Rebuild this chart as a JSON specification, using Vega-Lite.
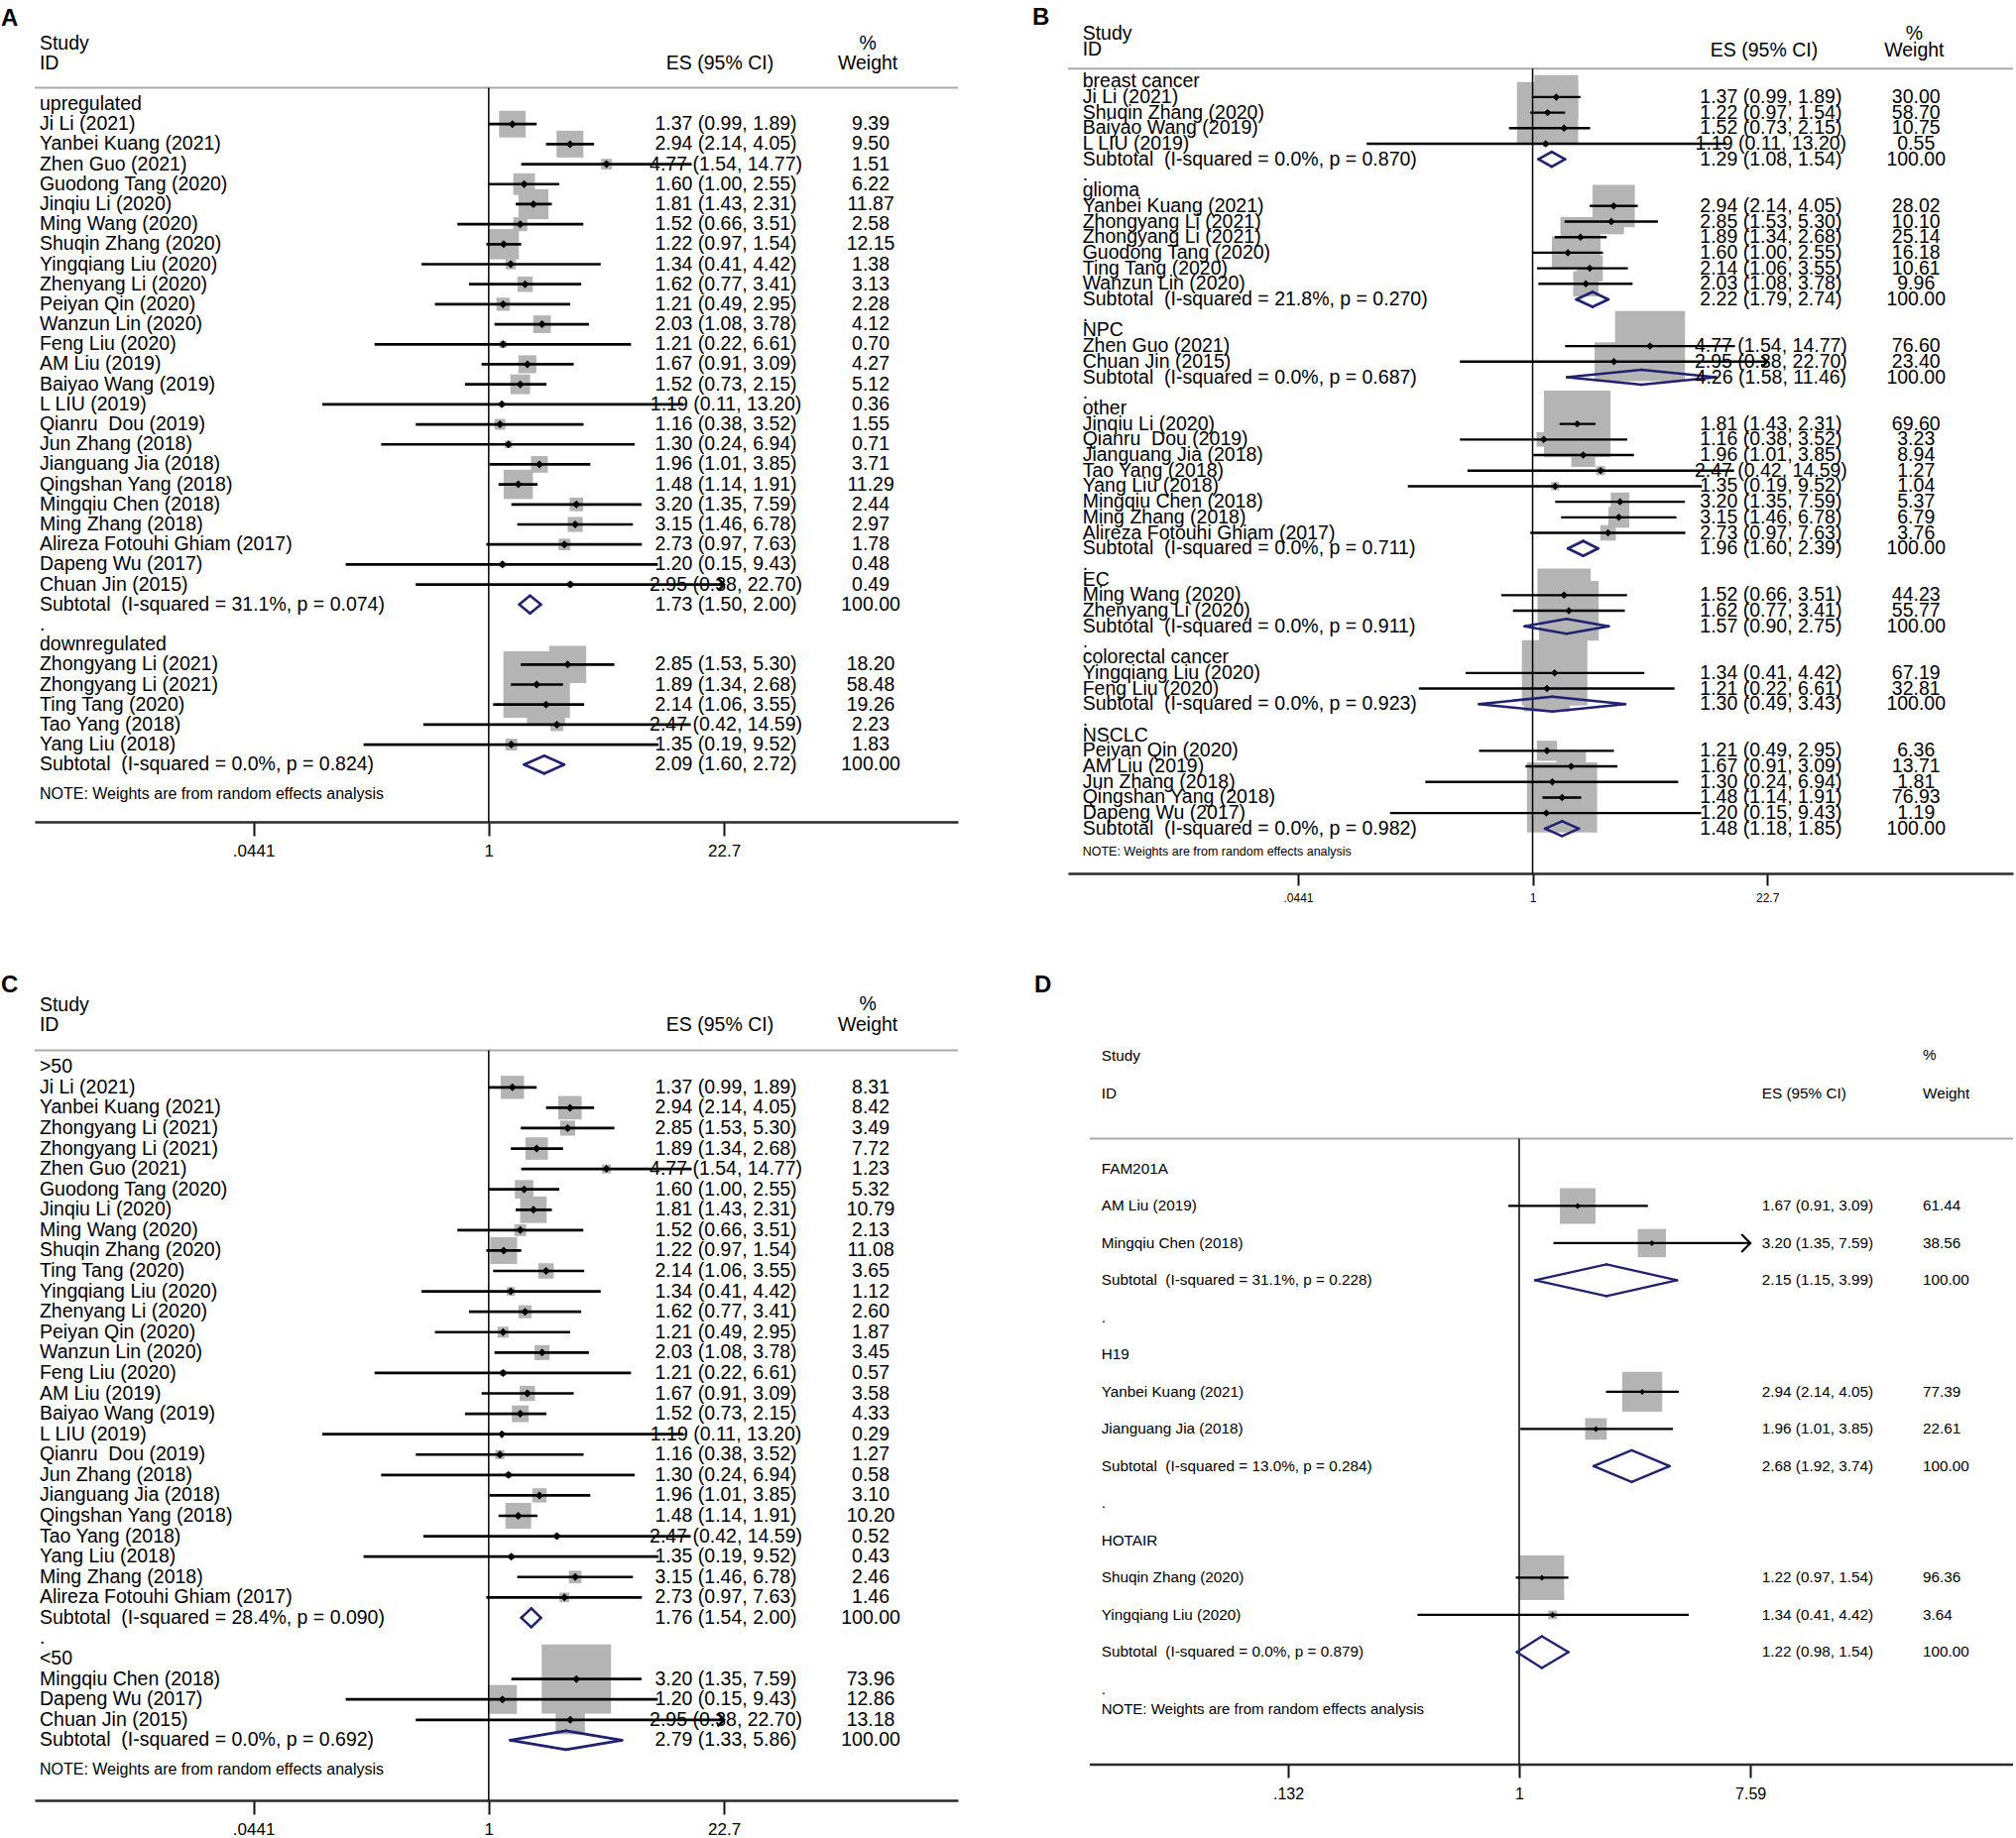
{
"$schema":"https://vega.github.io/schema/vega-lite/v6.json",
"background":"white",
"padding":{"left":1,"top":5,"right":0,"bottom":0},
"config":{
 "view":{"stroke":null},
 "axisY":{"disable":true,"domain":false,"ticks":false,"labels":false,"grid":false},
 "axisX":{"grid":false,"domainColor":"#2b2b2b","domainWidth":2.5,"tickColor":"#111111","tickWidth":2,"labelColor":"#000000","labelFont":"Liberation Sans","labelFlush":false,"labelOverlap":false,"titleColor":"transparent"},
 "text":{"font":"Liberation Sans","color":"#000000"}
},
"datasets":{
"A":[
{"r":0,"label":"upregulated","kind":"g"},
{"r":1,"label":"Ji Li (2021)","kind":"s","es":1.37,"lci":0.99,"uci":1.89,"w":9.39,"est":"1.37 (0.99, 1.89)","wt":"9.39"},
{"r":2,"label":"Yanbei Kuang (2021)","kind":"s","es":2.94,"lci":2.14,"uci":4.05,"w":9.50,"est":"2.94 (2.14, 4.05)","wt":"9.50"},
{"r":3,"label":"Zhen Guo (2021)","kind":"s","es":4.77,"lci":1.54,"uci":14.77,"w":1.51,"est":"4.77 (1.54, 14.77)","wt":"1.51"},
{"r":4,"label":"Guodong Tang (2020)","kind":"s","es":1.60,"lci":1.00,"uci":2.55,"w":6.22,"est":"1.60 (1.00, 2.55)","wt":"6.22"},
{"r":5,"label":"Jinqiu Li (2020)","kind":"s","es":1.81,"lci":1.43,"uci":2.31,"w":11.87,"est":"1.81 (1.43, 2.31)","wt":"11.87"},
{"r":6,"label":"Ming Wang (2020)","kind":"s","es":1.52,"lci":0.66,"uci":3.51,"w":2.58,"est":"1.52 (0.66, 3.51)","wt":"2.58"},
{"r":7,"label":"Shuqin Zhang (2020)","kind":"s","es":1.22,"lci":0.97,"uci":1.54,"w":12.15,"est":"1.22 (0.97, 1.54)","wt":"12.15"},
{"r":8,"label":"Yingqiang Liu (2020)","kind":"s","es":1.34,"lci":0.41,"uci":4.42,"w":1.38,"est":"1.34 (0.41, 4.42)","wt":"1.38"},
{"r":9,"label":"Zhenyang Li (2020)","kind":"s","es":1.62,"lci":0.77,"uci":3.41,"w":3.13,"est":"1.62 (0.77, 3.41)","wt":"3.13"},
{"r":10,"label":"Peiyan Qin (2020)","kind":"s","es":1.21,"lci":0.49,"uci":2.95,"w":2.28,"est":"1.21 (0.49, 2.95)","wt":"2.28"},
{"r":11,"label":"Wanzun Lin (2020)","kind":"s","es":2.03,"lci":1.08,"uci":3.78,"w":4.12,"est":"2.03 (1.08, 3.78)","wt":"4.12"},
{"r":12,"label":"Feng Liu (2020)","kind":"s","es":1.21,"lci":0.22,"uci":6.61,"w":0.70,"est":"1.21 (0.22, 6.61)","wt":"0.70"},
{"r":13,"label":"AM Liu (2019)","kind":"s","es":1.67,"lci":0.91,"uci":3.09,"w":4.27,"est":"1.67 (0.91, 3.09)","wt":"4.27"},
{"r":14,"label":"Baiyao Wang (2019)","kind":"s","es":1.52,"lci":0.73,"uci":2.15,"w":5.12,"est":"1.52 (0.73, 2.15)","wt":"5.12"},
{"r":15,"label":"L LIU (2019)","kind":"s","es":1.19,"lci":0.11,"uci":13.20,"w":0.36,"est":"1.19 (0.11, 13.20)","wt":"0.36"},
{"r":16,"label":"Qianru\u00a0 Dou (2019)","kind":"s","es":1.16,"lci":0.38,"uci":3.52,"w":1.55,"est":"1.16 (0.38, 3.52)","wt":"1.55"},
{"r":17,"label":"Jun Zhang (2018)","kind":"s","es":1.30,"lci":0.24,"uci":6.94,"w":0.71,"est":"1.30 (0.24, 6.94)","wt":"0.71"},
{"r":18,"label":"Jianguang Jia (2018)","kind":"s","es":1.96,"lci":1.01,"uci":3.85,"w":3.71,"est":"1.96 (1.01, 3.85)","wt":"3.71"},
{"r":19,"label":"Qingshan Yang (2018)","kind":"s","es":1.48,"lci":1.14,"uci":1.91,"w":11.29,"est":"1.48 (1.14, 1.91)","wt":"11.29"},
{"r":20,"label":"Mingqiu Chen (2018)","kind":"s","es":3.20,"lci":1.35,"uci":7.59,"w":2.44,"est":"3.20 (1.35, 7.59)","wt":"2.44"},
{"r":21,"label":"Ming Zhang (2018)","kind":"s","es":3.15,"lci":1.46,"uci":6.78,"w":2.97,"est":"3.15 (1.46, 6.78)","wt":"2.97"},
{"r":22,"label":"Alireza Fotouhi Ghiam (2017)","kind":"s","es":2.73,"lci":0.97,"uci":7.63,"w":1.78,"est":"2.73 (0.97, 7.63)","wt":"1.78"},
{"r":23,"label":"Dapeng Wu (2017)","kind":"s","es":1.20,"lci":0.15,"uci":9.43,"w":0.48,"est":"1.20 (0.15, 9.43)","wt":"0.48"},
{"r":24,"label":"Chuan Jin (2015)","kind":"s","es":2.95,"lci":0.38,"uci":22.70,"w":0.49,"est":"2.95 (0.38, 22.70)","wt":"0.49"},
{"r":25,"label":"Subtotal\u00a0 (I-squared = 31.1%, p = 0.074)","kind":"t","es":1.73,"lci":1.50,"uci":2.00,"w":100,"est":"1.73 (1.50, 2.00)","wt":"100.00"},
{"r":26,"label":".","kind":"d"},
{"r":27,"label":"downregulated","kind":"g"},
{"r":28,"label":"Zhongyang Li (2021)","kind":"s","es":2.85,"lci":1.53,"uci":5.30,"w":18.20,"est":"2.85 (1.53, 5.30)","wt":"18.20"},
{"r":29,"label":"Zhongyang Li (2021)","kind":"s","es":1.89,"lci":1.34,"uci":2.68,"w":58.48,"est":"1.89 (1.34, 2.68)","wt":"58.48"},
{"r":30,"label":"Ting Tang (2020)","kind":"s","es":2.14,"lci":1.06,"uci":3.55,"w":19.26,"est":"2.14 (1.06, 3.55)","wt":"19.26"},
{"r":31,"label":"Tao Yang (2018)","kind":"s","es":2.47,"lci":0.42,"uci":14.59,"w":2.23,"est":"2.47 (0.42, 14.59)","wt":"2.23"},
{"r":32,"label":"Yang Liu (2018)","kind":"s","es":1.35,"lci":0.19,"uci":9.52,"w":1.83,"est":"1.35 (0.19, 9.52)","wt":"1.83"},
{"r":33,"label":"Subtotal\u00a0 (I-squared = 0.0%, p = 0.824)","kind":"t","es":2.09,"lci":1.60,"uci":2.72,"w":100,"est":"2.09 (1.60, 2.72)","wt":"100.00"}
],
"B":[
{"r":0,"label":"breast cancer","kind":"g"},
{"r":1,"label":"Ji Li (2021)","kind":"s","es":1.37,"lci":0.99,"uci":1.89,"w":30.00,"est":"1.37 (0.99, 1.89)","wt":"30.00"},
{"r":2,"label":"Shuqin Zhang (2020)","kind":"s","es":1.22,"lci":0.97,"uci":1.54,"w":58.70,"est":"1.22 (0.97, 1.54)","wt":"58.70"},
{"r":3,"label":"Baiyao Wang (2019)","kind":"s","es":1.52,"lci":0.73,"uci":2.15,"w":10.75,"est":"1.52 (0.73, 2.15)","wt":"10.75"},
{"r":4,"label":"L LIU (2019)","kind":"s","es":1.19,"lci":0.11,"uci":13.20,"w":0.55,"est":"1.19 (0.11, 13.20)","wt":"0.55"},
{"r":5,"label":"Subtotal\u00a0 (I-squared = 0.0%, p = 0.870)","kind":"t","es":1.29,"lci":1.08,"uci":1.54,"w":100,"est":"1.29 (1.08, 1.54)","wt":"100.00"},
{"r":6,"label":".","kind":"d"},
{"r":7,"label":"glioma","kind":"g"},
{"r":8,"label":"Yanbei Kuang (2021)","kind":"s","es":2.94,"lci":2.14,"uci":4.05,"w":28.02,"est":"2.94 (2.14, 4.05)","wt":"28.02"},
{"r":9,"label":"Zhongyang Li (2021)","kind":"s","es":2.85,"lci":1.53,"uci":5.30,"w":10.10,"est":"2.85 (1.53, 5.30)","wt":"10.10"},
{"r":10,"label":"Zhongyang Li (2021)","kind":"s","es":1.89,"lci":1.34,"uci":2.68,"w":25.14,"est":"1.89 (1.34, 2.68)","wt":"25.14"},
{"r":11,"label":"Guodong Tang (2020)","kind":"s","es":1.60,"lci":1.00,"uci":2.55,"w":16.18,"est":"1.60 (1.00, 2.55)","wt":"16.18"},
{"r":12,"label":"Ting Tang (2020)","kind":"s","es":2.14,"lci":1.06,"uci":3.55,"w":10.61,"est":"2.14 (1.06, 3.55)","wt":"10.61"},
{"r":13,"label":"Wanzun Lin (2020)","kind":"s","es":2.03,"lci":1.08,"uci":3.78,"w":9.96,"est":"2.03 (1.08, 3.78)","wt":"9.96"},
{"r":14,"label":"Subtotal\u00a0 (I-squared = 21.8%, p = 0.270)","kind":"t","es":2.22,"lci":1.79,"uci":2.74,"w":100,"est":"2.22 (1.79, 2.74)","wt":"100.00"},
{"r":15,"label":".","kind":"d"},
{"r":16,"label":"NPC","kind":"g"},
{"r":17,"label":"Zhen Guo (2021)","kind":"s","es":4.77,"lci":1.54,"uci":14.77,"w":76.60,"est":"4.77 (1.54, 14.77)","wt":"76.60"},
{"r":18,"label":"Chuan Jin (2015)","kind":"s","es":2.95,"lci":0.38,"uci":22.70,"w":23.40,"est":"2.95 (0.38, 22.70)","wt":"23.40"},
{"r":19,"label":"Subtotal\u00a0 (I-squared = 0.0%, p = 0.687)","kind":"t","es":4.26,"lci":1.58,"uci":11.46,"w":100,"est":"4.26 (1.58, 11.46)","wt":"100.00"},
{"r":20,"label":".","kind":"d"},
{"r":21,"label":"other","kind":"g"},
{"r":22,"label":"Jinqiu Li (2020)","kind":"s","es":1.81,"lci":1.43,"uci":2.31,"w":69.60,"est":"1.81 (1.43, 2.31)","wt":"69.60"},
{"r":23,"label":"Qianru\u00a0 Dou (2019)","kind":"s","es":1.16,"lci":0.38,"uci":3.52,"w":3.23,"est":"1.16 (0.38, 3.52)","wt":"3.23"},
{"r":24,"label":"Jianguang Jia (2018)","kind":"s","es":1.96,"lci":1.01,"uci":3.85,"w":8.94,"est":"1.96 (1.01, 3.85)","wt":"8.94"},
{"r":25,"label":"Tao Yang (2018)","kind":"s","es":2.47,"lci":0.42,"uci":14.59,"w":1.27,"est":"2.47 (0.42, 14.59)","wt":"1.27"},
{"r":26,"label":"Yang Liu (2018)","kind":"s","es":1.35,"lci":0.19,"uci":9.52,"w":1.04,"est":"1.35 (0.19, 9.52)","wt":"1.04"},
{"r":27,"label":"Mingqiu Chen (2018)","kind":"s","es":3.20,"lci":1.35,"uci":7.59,"w":5.37,"est":"3.20 (1.35, 7.59)","wt":"5.37"},
{"r":28,"label":"Ming Zhang (2018)","kind":"s","es":3.15,"lci":1.46,"uci":6.78,"w":6.79,"est":"3.15 (1.46, 6.78)","wt":"6.79"},
{"r":29,"label":"Alireza Fotouhi Ghiam (2017)","kind":"s","es":2.73,"lci":0.97,"uci":7.63,"w":3.76,"est":"2.73 (0.97, 7.63)","wt":"3.76"},
{"r":30,"label":"Subtotal\u00a0 (I-squared = 0.0%, p = 0.711)","kind":"t","es":1.96,"lci":1.60,"uci":2.39,"w":100,"est":"1.96 (1.60, 2.39)","wt":"100.00"},
{"r":31,"label":".","kind":"d"},
{"r":32,"label":"EC","kind":"g"},
{"r":33,"label":"Ming Wang (2020)","kind":"s","es":1.52,"lci":0.66,"uci":3.51,"w":44.23,"est":"1.52 (0.66, 3.51)","wt":"44.23"},
{"r":34,"label":"Zhenyang Li (2020)","kind":"s","es":1.62,"lci":0.77,"uci":3.41,"w":55.77,"est":"1.62 (0.77, 3.41)","wt":"55.77"},
{"r":35,"label":"Subtotal\u00a0 (I-squared = 0.0%, p = 0.911)","kind":"t","es":1.57,"lci":0.90,"uci":2.75,"w":100,"est":"1.57 (0.90, 2.75)","wt":"100.00"},
{"r":36,"label":".","kind":"d"},
{"r":37,"label":"colorectal cancer","kind":"g"},
{"r":38,"label":"Yingqiang Liu (2020)","kind":"s","es":1.34,"lci":0.41,"uci":4.42,"w":67.19,"est":"1.34 (0.41, 4.42)","wt":"67.19"},
{"r":39,"label":"Feng Liu (2020)","kind":"s","es":1.21,"lci":0.22,"uci":6.61,"w":32.81,"est":"1.21 (0.22, 6.61)","wt":"32.81"},
{"r":40,"label":"Subtotal\u00a0 (I-squared = 0.0%, p = 0.923)","kind":"t","es":1.30,"lci":0.49,"uci":3.43,"w":100,"est":"1.30 (0.49, 3.43)","wt":"100.00"},
{"r":41,"label":".","kind":"d"},
{"r":42,"label":"NSCLC","kind":"g"},
{"r":43,"label":"Peiyan Qin (2020)","kind":"s","es":1.21,"lci":0.49,"uci":2.95,"w":6.36,"est":"1.21 (0.49, 2.95)","wt":"6.36"},
{"r":44,"label":"AM Liu (2019)","kind":"s","es":1.67,"lci":0.91,"uci":3.09,"w":13.71,"est":"1.67 (0.91, 3.09)","wt":"13.71"},
{"r":45,"label":"Jun Zhang (2018)","kind":"s","es":1.30,"lci":0.24,"uci":6.94,"w":1.81,"est":"1.30 (0.24, 6.94)","wt":"1.81"},
{"r":46,"label":"Qingshan Yang (2018)","kind":"s","es":1.48,"lci":1.14,"uci":1.91,"w":76.93,"est":"1.48 (1.14, 1.91)","wt":"76.93"},
{"r":47,"label":"Dapeng Wu (2017)","kind":"s","es":1.20,"lci":0.15,"uci":9.43,"w":1.19,"est":"1.20 (0.15, 9.43)","wt":"1.19"},
{"r":48,"label":"Subtotal\u00a0 (I-squared = 0.0%, p = 0.982)","kind":"t","es":1.48,"lci":1.18,"uci":1.85,"w":100,"est":"1.48 (1.18, 1.85)","wt":"100.00"}
],
"C":[
{"r":0,"label":">50","kind":"g"},
{"r":1,"label":"Ji Li (2021)","kind":"s","es":1.37,"lci":0.99,"uci":1.89,"w":8.31,"est":"1.37 (0.99, 1.89)","wt":"8.31"},
{"r":2,"label":"Yanbei Kuang (2021)","kind":"s","es":2.94,"lci":2.14,"uci":4.05,"w":8.42,"est":"2.94 (2.14, 4.05)","wt":"8.42"},
{"r":3,"label":"Zhongyang Li (2021)","kind":"s","es":2.85,"lci":1.53,"uci":5.30,"w":3.49,"est":"2.85 (1.53, 5.30)","wt":"3.49"},
{"r":4,"label":"Zhongyang Li (2021)","kind":"s","es":1.89,"lci":1.34,"uci":2.68,"w":7.72,"est":"1.89 (1.34, 2.68)","wt":"7.72"},
{"r":5,"label":"Zhen Guo (2021)","kind":"s","es":4.77,"lci":1.54,"uci":14.77,"w":1.23,"est":"4.77 (1.54, 14.77)","wt":"1.23"},
{"r":6,"label":"Guodong Tang (2020)","kind":"s","es":1.60,"lci":1.00,"uci":2.55,"w":5.32,"est":"1.60 (1.00, 2.55)","wt":"5.32"},
{"r":7,"label":"Jinqiu Li (2020)","kind":"s","es":1.81,"lci":1.43,"uci":2.31,"w":10.79,"est":"1.81 (1.43, 2.31)","wt":"10.79"},
{"r":8,"label":"Ming Wang (2020)","kind":"s","es":1.52,"lci":0.66,"uci":3.51,"w":2.13,"est":"1.52 (0.66, 3.51)","wt":"2.13"},
{"r":9,"label":"Shuqin Zhang (2020)","kind":"s","es":1.22,"lci":0.97,"uci":1.54,"w":11.08,"est":"1.22 (0.97, 1.54)","wt":"11.08"},
{"r":10,"label":"Ting Tang (2020)","kind":"s","es":2.14,"lci":1.06,"uci":3.55,"w":3.65,"est":"2.14 (1.06, 3.55)","wt":"3.65"},
{"r":11,"label":"Yingqiang Liu (2020)","kind":"s","es":1.34,"lci":0.41,"uci":4.42,"w":1.12,"est":"1.34 (0.41, 4.42)","wt":"1.12"},
{"r":12,"label":"Zhenyang Li (2020)","kind":"s","es":1.62,"lci":0.77,"uci":3.41,"w":2.60,"est":"1.62 (0.77, 3.41)","wt":"2.60"},
{"r":13,"label":"Peiyan Qin (2020)","kind":"s","es":1.21,"lci":0.49,"uci":2.95,"w":1.87,"est":"1.21 (0.49, 2.95)","wt":"1.87"},
{"r":14,"label":"Wanzun Lin (2020)","kind":"s","es":2.03,"lci":1.08,"uci":3.78,"w":3.45,"est":"2.03 (1.08, 3.78)","wt":"3.45"},
{"r":15,"label":"Feng Liu (2020)","kind":"s","es":1.21,"lci":0.22,"uci":6.61,"w":0.57,"est":"1.21 (0.22, 6.61)","wt":"0.57"},
{"r":16,"label":"AM Liu (2019)","kind":"s","es":1.67,"lci":0.91,"uci":3.09,"w":3.58,"est":"1.67 (0.91, 3.09)","wt":"3.58"},
{"r":17,"label":"Baiyao Wang (2019)","kind":"s","es":1.52,"lci":0.73,"uci":2.15,"w":4.33,"est":"1.52 (0.73, 2.15)","wt":"4.33"},
{"r":18,"label":"L LIU (2019)","kind":"s","es":1.19,"lci":0.11,"uci":13.20,"w":0.29,"est":"1.19 (0.11, 13.20)","wt":"0.29"},
{"r":19,"label":"Qianru\u00a0 Dou (2019)","kind":"s","es":1.16,"lci":0.38,"uci":3.52,"w":1.27,"est":"1.16 (0.38, 3.52)","wt":"1.27"},
{"r":20,"label":"Jun Zhang (2018)","kind":"s","es":1.30,"lci":0.24,"uci":6.94,"w":0.58,"est":"1.30 (0.24, 6.94)","wt":"0.58"},
{"r":21,"label":"Jianguang Jia (2018)","kind":"s","es":1.96,"lci":1.01,"uci":3.85,"w":3.10,"est":"1.96 (1.01, 3.85)","wt":"3.10"},
{"r":22,"label":"Qingshan Yang (2018)","kind":"s","es":1.48,"lci":1.14,"uci":1.91,"w":10.20,"est":"1.48 (1.14, 1.91)","wt":"10.20"},
{"r":23,"label":"Tao Yang (2018)","kind":"s","es":2.47,"lci":0.42,"uci":14.59,"w":0.52,"est":"2.47 (0.42, 14.59)","wt":"0.52"},
{"r":24,"label":"Yang Liu (2018)","kind":"s","es":1.35,"lci":0.19,"uci":9.52,"w":0.43,"est":"1.35 (0.19, 9.52)","wt":"0.43"},
{"r":25,"label":"Ming Zhang (2018)","kind":"s","es":3.15,"lci":1.46,"uci":6.78,"w":2.46,"est":"3.15 (1.46, 6.78)","wt":"2.46"},
{"r":26,"label":"Alireza Fotouhi Ghiam (2017)","kind":"s","es":2.73,"lci":0.97,"uci":7.63,"w":1.46,"est":"2.73 (0.97, 7.63)","wt":"1.46"},
{"r":27,"label":"Subtotal\u00a0 (I-squared = 28.4%, p = 0.090)","kind":"t","es":1.76,"lci":1.54,"uci":2.00,"w":100,"est":"1.76 (1.54, 2.00)","wt":"100.00"},
{"r":28,"label":".","kind":"d"},
{"r":29,"label":"<50","kind":"g"},
{"r":30,"label":"Mingqiu Chen (2018)","kind":"s","es":3.20,"lci":1.35,"uci":7.59,"w":73.96,"est":"3.20 (1.35, 7.59)","wt":"73.96"},
{"r":31,"label":"Dapeng Wu (2017)","kind":"s","es":1.20,"lci":0.15,"uci":9.43,"w":12.86,"est":"1.20 (0.15, 9.43)","wt":"12.86"},
{"r":32,"label":"Chuan Jin (2015)","kind":"s","es":2.95,"lci":0.38,"uci":22.70,"w":13.18,"est":"2.95 (0.38, 22.70)","wt":"13.18"},
{"r":33,"label":"Subtotal\u00a0 (I-squared = 0.0%, p = 0.692)","kind":"t","es":2.79,"lci":1.33,"uci":5.86,"w":100,"est":"2.79 (1.33, 5.86)","wt":"100.00"}
],
"D":[
{"r":0,"label":"FAM201A","kind":"g"},
{"r":1,"label":"AM Liu (2019)","kind":"s","es":1.67,"lci":0.91,"uci":3.09,"w":61.44,"est":"1.67 (0.91, 3.09)","wt":"61.44"},
{"r":2,"label":"Mingqiu Chen (2018)","kind":"s","es":3.20,"lci":1.35,"uci":7.59,"w":38.56,"est":"3.20 (1.35, 7.59)","wt":"38.56"},
{"r":3,"label":"Subtotal\u00a0 (I-squared = 31.1%, p = 0.228)","kind":"t","es":2.15,"lci":1.15,"uci":3.99,"w":100,"est":"2.15 (1.15, 3.99)","wt":"100.00"},
{"r":4,"label":".","kind":"d"},
{"r":5,"label":"H19","kind":"g"},
{"r":6,"label":"Yanbei Kuang (2021)","kind":"s","es":2.94,"lci":2.14,"uci":4.05,"w":77.39,"est":"2.94 (2.14, 4.05)","wt":"77.39"},
{"r":7,"label":"Jianguang Jia (2018)","kind":"s","es":1.96,"lci":1.01,"uci":3.85,"w":22.61,"est":"1.96 (1.01, 3.85)","wt":"22.61"},
{"r":8,"label":"Subtotal\u00a0 (I-squared = 13.0%, p = 0.284)","kind":"t","es":2.68,"lci":1.92,"uci":3.74,"w":100,"est":"2.68 (1.92, 3.74)","wt":"100.00"},
{"r":9,"label":".","kind":"d"},
{"r":10,"label":"HOTAIR","kind":"g"},
{"r":11,"label":"Shuqin Zhang (2020)","kind":"s","es":1.22,"lci":0.97,"uci":1.54,"w":96.36,"est":"1.22 (0.97, 1.54)","wt":"96.36"},
{"r":12,"label":"Yingqiang Liu (2020)","kind":"s","es":1.34,"lci":0.41,"uci":4.42,"w":3.64,"est":"1.34 (0.41, 4.42)","wt":"3.64"},
{"r":13,"label":"Subtotal\u00a0 (I-squared = 0.0%, p = 0.879)","kind":"t","es":1.22,"lci":0.98,"uci":1.54,"w":100,"est":"1.22 (0.98, 1.54)","wt":"100.00"},
{"r":14,"label":".","kind":"d"}
]
},
"columns":2,
"spacing":{"row":160,"column":111},
"bounds":"flush",
"resolve":{"scale":{"size":"independent","x":"independent","y":"independent"},"legend":{"size":"independent"}},
"concat":[
{"width":931,"height":768,"data":{"name":"A"},"layer":[
{"transform":[{"filter":"datum.kind=='s'"}],"mark":{"type":"square","color":"#b4b4b4","opacity":1},"encoding":{
 "x":{"field":"es","type":"quantitative","scale":{"type":"log","domain":[0.002422,505.3],"nice":false},"axis":{"values":[0.0441,1,22.7],"labelExpr":"datum.value < 0.5 ? '.0441' : (datum.value < 2 ? '1' : '22.7')","title":null,"tickSize":14,"labelFontSize":17,"labelPadding":7.5}},
 "y":{"field":"r","type":"quantitative","scale":{"domain":[-2.179,35.859],"reverse":true,"nice":false,"zero":false},"axis":null},
 "size":{"field":"w","type":"quantitative","scale":{"domain":[0,100],"range":[0,7700]},"legend":null}}},
{"data":{"values":[{}]},"mark":{"type":"rule","color":"#aaaaaa","strokeWidth":2},"encoding":{"y":{"datum":-0.817,"axis":null}}},
{"data":{"values":[{}]},"mark":{"type":"rule","color":"#000000","strokeWidth":1.5},"encoding":{"x":{"datum":1},"y":{"datum":-0.817,"axis":null},"y2":{"datum":35.859}}},
{"transform":[{"filter":"datum.kind=='s'"}],"mark":{"type":"rule","color":"#000000","strokeWidth":2.7},"encoding":{"x":{"field":"lci","type":"quantitative"},"x2":{"field":"uci"},"y":{"field":"r","type":"quantitative","axis":null}}},
{"transform":[{"filter":"datum.kind=='s'"}],"mark":{"type":"point","shape":"diamond","filled":true,"color":"#000000","size":64,"opacity":1},"encoding":{"x":{"field":"es","type":"quantitative"},"y":{"field":"r","type":"quantitative","axis":null}}},
{"transform":[{"filter":"datum.kind=='s' && datum.uci >= 22.7"}],"mark":{"type":"point","shape":"M-1,-1L0,0L-1,1","filled":false,"color":"#000000","strokeWidth":2.5,"size":144,"opacity":1},"encoding":{"x":{"field":"uci","type":"quantitative"},"y":{"field":"r","type":"quantitative","axis":null}}},
{"transform":[{"filter":"datum.kind=='t'"}],"mark":{"type":"rule","color":"#1f2270","strokeWidth":2.6,"strokeCap":"round","y2Offset":-9},"encoding":{"x":{"field":"lci","type":"quantitative"},"x2":{"field":"es"},"y":{"field":"r","type":"quantitative","axis":null},"y2":{"field":"r"}}},
{"transform":[{"filter":"datum.kind=='t'"}],"mark":{"type":"rule","color":"#1f2270","strokeWidth":2.6,"strokeCap":"round","yOffset":-9},"encoding":{"x":{"field":"es","type":"quantitative"},"x2":{"field":"uci"},"y":{"field":"r","type":"quantitative","axis":null},"y2":{"field":"r"}}},
{"transform":[{"filter":"datum.kind=='t'"}],"mark":{"type":"rule","color":"#1f2270","strokeWidth":2.6,"strokeCap":"round","y2Offset":9},"encoding":{"x":{"field":"lci","type":"quantitative"},"x2":{"field":"es"},"y":{"field":"r","type":"quantitative","axis":null},"y2":{"field":"r"}}},
{"transform":[{"filter":"datum.kind=='t'"}],"mark":{"type":"rule","color":"#1f2270","strokeWidth":2.6,"strokeCap":"round","yOffset":9},"encoding":{"x":{"field":"es","type":"quantitative"},"x2":{"field":"uci"},"y":{"field":"r","type":"quantitative","axis":null},"y2":{"field":"r"}}},
{"mark":{"type":"text","align":"left","baseline":"middle","fontSize":19.5},"encoding":{"x":{"datum":0.002585},"y":{"field":"r","type":"quantitative","axis":null},"text":{"field":"label"}}},
{"transform":[{"filter":"isValid(datum.est)"}],"mark":{"type":"text","align":"center","baseline":"middle","fontSize":19.5},"encoding":{"x":{"datum":23.27},"y":{"field":"r","type":"quantitative","axis":null},"text":{"field":"est"}}},
{"transform":[{"filter":"isValid(datum.wt)"}],"mark":{"type":"text","align":"center","baseline":"middle","fontSize":19.5},"encoding":{"x":{"datum":158.9},"y":{"field":"r","type":"quantitative","axis":null},"text":{"field":"wt"}}},
{"data":{"values":[{}]},"mark":{"type":"text","text":"A","align":"left","baseline":"alphabetic","fontSize":24,"fontWeight":"bold"},"encoding":{"x":{"datum":0.001549},"y":{"datum":-3.903,"axis":null}}},
{"data":{"values":[{}]},"mark":{"type":"text","text":"Study","align":"left","baseline":"middle","fontSize":19.5},"encoding":{"x":{"datum":0.002585},"y":{"datum":-2.997,"axis":null}}},
{"data":{"values":[{}]},"mark":{"type":"text","text":"ID","align":"left","baseline":"middle","fontSize":19.5},"encoding":{"x":{"datum":0.002585},"y":{"datum":-2.036,"axis":null}}},
{"data":{"values":[{}]},"mark":{"type":"text","text":"ES (95% CI)","align":"center","baseline":"middle","fontSize":19.5},"encoding":{"x":{"datum":21.5},"y":{"datum":-2.036,"axis":null}}},
{"data":{"values":[{}]},"mark":{"type":"text","text":"%","align":"center","baseline":"middle","fontSize":19.5},"encoding":{"x":{"datum":152.8},"y":{"datum":-2.997,"axis":null}}},
{"data":{"values":[{}]},"mark":{"type":"text","text":"Weight","align":"center","baseline":"middle","fontSize":19.5},"encoding":{"x":{"datum":152.8},"y":{"datum":-2.036,"axis":null}}},
{"data":{"values":[{}]},"mark":{"type":"text","text":"NOTE: Weights are from random effects analysis","align":"left","baseline":"middle","fontSize":16},"encoding":{"x":{"datum":0.002585},"y":{"datum":34.45,"axis":null}}}
]},
{"width":953,"height":820,"data":{"name":"B"},"layer":[
{"transform":[{"filter":"datum.kind=='s'"}],"mark":{"type":"square","color":"#b4b4b4","opacity":1},"encoding":{
 "x":{"field":"es","type":"quantitative","scale":{"type":"log","domain":[0.002066,597.2],"nice":false},"axis":{"values":[0.0441,1,22.7],"labelExpr":"datum.value < 0.5 ? '.0441' : (datum.value < 2 ? '1' : '22.7')","title":null,"tickSize":12,"labelFontSize":12,"labelPadding":7.8}},
 "y":{"field":"r","type":"quantitative","scale":{"domain":[-1.3516,50.877],"reverse":true,"nice":false,"zero":false},"axis":null},
 "size":{"field":"w","type":"quantitative","scale":{"domain":[0,100],"range":[0,6500]},"legend":null}}},
{"data":{"values":[{}]},"mark":{"type":"rule","color":"#aaaaaa","strokeWidth":2},"encoding":{"y":{"datum":-0.83,"axis":null}}},
{"data":{"values":[{}]},"mark":{"type":"rule","color":"#000000","strokeWidth":1.5},"encoding":{"x":{"datum":1},"y":{"datum":-0.83,"axis":null},"y2":{"datum":50.877}}},
{"transform":[{"filter":"datum.kind=='s'"}],"mark":{"type":"rule","color":"#000000","strokeWidth":2.4},"encoding":{"x":{"field":"lci","type":"quantitative"},"x2":{"field":"uci"},"y":{"field":"r","type":"quantitative","axis":null}}},
{"transform":[{"filter":"datum.kind=='s'"}],"mark":{"type":"point","shape":"diamond","filled":true,"color":"#000000","size":56,"opacity":1},"encoding":{"x":{"field":"es","type":"quantitative"},"y":{"field":"r","type":"quantitative","axis":null}}},
{"transform":[{"filter":"datum.kind=='s' && datum.uci >= 22.7"}],"mark":{"type":"point","shape":"M-1,-1L0,0L-1,1","filled":false,"color":"#000000","strokeWidth":2.4,"size":121,"opacity":1},"encoding":{"x":{"field":"uci","type":"quantitative"},"y":{"field":"r","type":"quantitative","axis":null}}},
{"transform":[{"filter":"datum.kind=='t'"}],"mark":{"type":"rule","color":"#1f2270","strokeWidth":2.6,"strokeCap":"round","y2Offset":-7.5},"encoding":{"x":{"field":"lci","type":"quantitative"},"x2":{"field":"es"},"y":{"field":"r","type":"quantitative","axis":null},"y2":{"field":"r"}}},
{"transform":[{"filter":"datum.kind=='t'"}],"mark":{"type":"rule","color":"#1f2270","strokeWidth":2.6,"strokeCap":"round","yOffset":-7.5},"encoding":{"x":{"field":"es","type":"quantitative"},"x2":{"field":"uci"},"y":{"field":"r","type":"quantitative","axis":null},"y2":{"field":"r"}}},
{"transform":[{"filter":"datum.kind=='t'"}],"mark":{"type":"rule","color":"#1f2270","strokeWidth":2.6,"strokeCap":"round","y2Offset":7.5},"encoding":{"x":{"field":"lci","type":"quantitative"},"x2":{"field":"es"},"y":{"field":"r","type":"quantitative","axis":null},"y2":{"field":"r"}}},
{"transform":[{"filter":"datum.kind=='t'"}],"mark":{"type":"rule","color":"#1f2270","strokeWidth":2.6,"strokeCap":"round","yOffset":7.5},"encoding":{"x":{"field":"es","type":"quantitative"},"x2":{"field":"uci"},"y":{"field":"r","type":"quantitative","axis":null},"y2":{"field":"r"}}},
{"mark":{"type":"text","align":"left","baseline":"middle","fontSize":19.5},"encoding":{"x":{"datum":0.002508},"y":{"field":"r","type":"quantitative","axis":null},"text":{"field":"label"}}},
{"transform":[{"filter":"isValid(datum.est)"}],"mark":{"type":"text","align":"center","baseline":"middle","fontSize":19.5},"encoding":{"x":{"datum":23.83},"y":{"field":"r","type":"quantitative","axis":null},"text":{"field":"est"}}},
{"transform":[{"filter":"isValid(datum.wt)"}],"mark":{"type":"text","align":"center","baseline":"middle","fontSize":19.5},"encoding":{"x":{"datum":164.4},"y":{"field":"r","type":"quantitative","axis":null},"text":{"field":"wt"}}},
{"data":{"values":[{}]},"mark":{"type":"text","text":"B","align":"left","baseline":"alphabetic","fontSize":24,"fontWeight":"bold"},"encoding":{"x":{"datum":0.001285},"y":{"datum":-3.675,"axis":null}}},
{"data":{"values":[{}]},"mark":{"type":"text","text":"Study","align":"left","baseline":"middle","fontSize":19.5},"encoding":{"x":{"datum":0.002508},"y":{"datum":-3.06,"axis":null}}},
{"data":{"values":[{}]},"mark":{"type":"text","text":"ID","align":"left","baseline":"middle","fontSize":19.5},"encoding":{"x":{"datum":0.002508},"y":{"datum":-2.04,"axis":null}}},
{"data":{"values":[{}]},"mark":{"type":"text","text":"ES (95% CI)","align":"center","baseline":"middle","fontSize":19.5},"encoding":{"x":{"datum":21.78},"y":{"datum":-1.97,"axis":null}}},
{"data":{"values":[{}]},"mark":{"type":"text","text":"%","align":"center","baseline":"middle","fontSize":19.5},"encoding":{"x":{"datum":160.3},"y":{"datum":-3.06,"axis":null}}},
{"data":{"values":[{}]},"mark":{"type":"text","text":"Weight","align":"center","baseline":"middle","fontSize":19.5},"encoding":{"x":{"datum":160.3},"y":{"datum":-1.97,"axis":null}}},
{"data":{"values":[{}]},"mark":{"type":"text","text":"NOTE: Weights are from random effects analysis","align":"left","baseline":"middle","fontSize":12.5},"encoding":{"x":{"datum":0.002508},"y":{"datum":49.45,"axis":null}}}
]},
{"width":931,"height":775,"data":{"name":"C"},"layer":[
{"transform":[{"filter":"datum.kind=='s'"}],"mark":{"type":"square","color":"#b4b4b4","opacity":1},"encoding":{
 "x":{"field":"es","type":"quantitative","scale":{"type":"log","domain":[0.002422,505.3],"nice":false},"axis":{"values":[0.0441,1,22.7],"labelExpr":"datum.value < 0.5 ? '.0441' : (datum.value < 2 ? '1' : '22.7')","title":null,"tickSize":14,"labelFontSize":17,"labelPadding":7.5}},
 "y":{"field":"r","type":"quantitative","scale":{"domain":[-1.7114,35.946],"reverse":true,"nice":false,"zero":false},"axis":null},
 "size":{"field":"w","type":"quantitative","scale":{"domain":[0,100],"range":[0,6600]},"legend":null}}},
{"data":{"values":[{}]},"mark":{"type":"rule","color":"#aaaaaa","strokeWidth":2},"encoding":{"y":{"datum":-0.81,"axis":null}}},
{"data":{"values":[{}]},"mark":{"type":"rule","color":"#000000","strokeWidth":1.5},"encoding":{"x":{"datum":1},"y":{"datum":-0.81,"axis":null},"y2":{"datum":35.946}}},
{"transform":[{"filter":"datum.kind=='s'"}],"mark":{"type":"rule","color":"#000000","strokeWidth":2.7},"encoding":{"x":{"field":"lci","type":"quantitative"},"x2":{"field":"uci"},"y":{"field":"r","type":"quantitative","axis":null}}},
{"transform":[{"filter":"datum.kind=='s'"}],"mark":{"type":"point","shape":"diamond","filled":true,"color":"#000000","size":64,"opacity":1},"encoding":{"x":{"field":"es","type":"quantitative"},"y":{"field":"r","type":"quantitative","axis":null}}},
{"transform":[{"filter":"datum.kind=='s' && datum.uci >= 22.7"}],"mark":{"type":"point","shape":"M-1,-1L0,0L-1,1","filled":false,"color":"#000000","strokeWidth":2.5,"size":169,"opacity":1},"encoding":{"x":{"field":"uci","type":"quantitative"},"y":{"field":"r","type":"quantitative","axis":null}}},
{"transform":[{"filter":"datum.kind=='t'"}],"mark":{"type":"rule","color":"#1f2270","strokeWidth":2.6,"strokeCap":"round","y2Offset":-9.5},"encoding":{"x":{"field":"lci","type":"quantitative"},"x2":{"field":"es"},"y":{"field":"r","type":"quantitative","axis":null},"y2":{"field":"r"}}},
{"transform":[{"filter":"datum.kind=='t'"}],"mark":{"type":"rule","color":"#1f2270","strokeWidth":2.6,"strokeCap":"round","yOffset":-9.5},"encoding":{"x":{"field":"es","type":"quantitative"},"x2":{"field":"uci"},"y":{"field":"r","type":"quantitative","axis":null},"y2":{"field":"r"}}},
{"transform":[{"filter":"datum.kind=='t'"}],"mark":{"type":"rule","color":"#1f2270","strokeWidth":2.6,"strokeCap":"round","y2Offset":9.5},"encoding":{"x":{"field":"lci","type":"quantitative"},"x2":{"field":"es"},"y":{"field":"r","type":"quantitative","axis":null},"y2":{"field":"r"}}},
{"transform":[{"filter":"datum.kind=='t'"}],"mark":{"type":"rule","color":"#1f2270","strokeWidth":2.6,"strokeCap":"round","yOffset":9.5},"encoding":{"x":{"field":"es","type":"quantitative"},"x2":{"field":"uci"},"y":{"field":"r","type":"quantitative","axis":null},"y2":{"field":"r"}}},
{"mark":{"type":"text","align":"left","baseline":"middle","fontSize":19.5},"encoding":{"x":{"datum":0.002585},"y":{"field":"r","type":"quantitative","axis":null},"text":{"field":"label"}}},
{"transform":[{"filter":"isValid(datum.est)"}],"mark":{"type":"text","align":"center","baseline":"middle","fontSize":19.5},"encoding":{"x":{"datum":23.27},"y":{"field":"r","type":"quantitative","axis":null},"text":{"field":"est"}}},
{"transform":[{"filter":"isValid(datum.wt)"}],"mark":{"type":"text","align":"center","baseline":"middle","fontSize":19.5},"encoding":{"x":{"datum":158.9},"y":{"field":"r","type":"quantitative","axis":null},"text":{"field":"wt"}}},
{"data":{"values":[{}]},"mark":{"type":"text","text":"C","align":"left","baseline":"alphabetic","fontSize":24,"fontWeight":"bold"},"encoding":{"x":{"datum":0.001549},"y":{"datum":-3.644,"axis":null}}},
{"data":{"values":[{}]},"mark":{"type":"text","text":"Study","align":"left","baseline":"middle","fontSize":19.5},"encoding":{"x":{"datum":0.002585},"y":{"datum":-3.01,"axis":null}}},
{"data":{"values":[{}]},"mark":{"type":"text","text":"ID","align":"left","baseline":"middle","fontSize":19.5},"encoding":{"x":{"datum":0.002585},"y":{"datum":-2.04,"axis":null}}},
{"data":{"values":[{}]},"mark":{"type":"text","text":"ES (95% CI)","align":"center","baseline":"middle","fontSize":19.5},"encoding":{"x":{"datum":21.5},"y":{"datum":-2.04,"axis":null}}},
{"data":{"values":[{}]},"mark":{"type":"text","text":"%","align":"center","baseline":"middle","fontSize":19.5},"encoding":{"x":{"datum":152.8},"y":{"datum":-3.06,"axis":null}}},
{"data":{"values":[{}]},"mark":{"type":"text","text":"Weight","align":"center","baseline":"middle","fontSize":19.5},"encoding":{"x":{"datum":152.8},"y":{"datum":-2.04,"axis":null}}},
{"data":{"values":[{}]},"mark":{"type":"text","text":"NOTE: Weights are from random effects analysis","align":"left","baseline":"middle","fontSize":16},"encoding":{"x":{"datum":0.002585},"y":{"datum":34.45,"axis":null}}}
]},
{"width":953,"height":739,"data":{"name":"D"},"layer":[
{"transform":[{"filter":"datum.kind=='s'"}],"mark":{"type":"square","color":"#b4b4b4","opacity":1},"encoding":{
 "x":{"field":"es","type":"quantitative","scale":{"type":"log","domain":[0.019156,75.87],"nice":false},"axis":{"values":[0.132,1,7.59],"labelExpr":"datum.value < 0.5 ? '.132' : (datum.value < 2 ? '1' : '7.59')","title":null,"domain":false,"tickSize":13,"labelFontSize":16,"labelPadding":8.5}},
 "y":{"field":"r","type":"quantitative","scale":{"domain":[-3.6779,16.029],"reverse":true,"nice":false,"zero":false},"axis":null},
 "size":{"field":"w","type":"quantitative","scale":{"domain":[0,100],"range":[0,2100]},"legend":null}}},
{"data":{"values":[{}]},"mark":{"type":"rule","color":"#aaaaaa","strokeWidth":2},"encoding":{"x":{"datum":0.02319},"x2":{"datum":75.87},"y":{"datum":-0.81,"axis":null}}},
{"data":{"values":[{}]},"mark":{"type":"rule","color":"#2b2b2b","strokeWidth":2.5},"encoding":{"x":{"datum":0.02319},"x2":{"datum":75.87},"y":{"datum":16.029,"axis":null}}},
{"data":{"values":[{}]},"mark":{"type":"rule","color":"#000000","strokeWidth":1.5},"encoding":{"x":{"datum":1},"y":{"datum":-0.81,"axis":null},"y2":{"datum":16.029}}},
{"transform":[{"filter":"datum.kind=='s'"}],"mark":{"type":"rule","color":"#000000","strokeWidth":2.2},"encoding":{"x":{"field":"lci","type":"quantitative"},"x2":{"field":"uci"},"y":{"field":"r","type":"quantitative","axis":null}}},
{"transform":[{"filter":"datum.kind=='s'"}],"mark":{"type":"point","shape":"diamond","filled":true,"color":"#000000","size":36,"opacity":1},"encoding":{"x":{"field":"es","type":"quantitative"},"y":{"field":"r","type":"quantitative","axis":null}}},
{"transform":[{"filter":"datum.kind=='s' && datum.uci >= 7.59"}],"mark":{"type":"point","shape":"M-1,-1L0,0L-1,1","filled":false,"color":"#000000","strokeWidth":2.2,"size":324,"opacity":1},"encoding":{"x":{"field":"uci","type":"quantitative"},"y":{"field":"r","type":"quantitative","axis":null}}},
{"transform":[{"filter":"datum.kind=='t'"}],"mark":{"type":"rule","color":"#1f2270","strokeWidth":2.4,"strokeCap":"round","y2Offset":-16},"encoding":{"x":{"field":"lci","type":"quantitative"},"x2":{"field":"es"},"y":{"field":"r","type":"quantitative","axis":null},"y2":{"field":"r"}}},
{"transform":[{"filter":"datum.kind=='t'"}],"mark":{"type":"rule","color":"#1f2270","strokeWidth":2.4,"strokeCap":"round","yOffset":-16},"encoding":{"x":{"field":"es","type":"quantitative"},"x2":{"field":"uci"},"y":{"field":"r","type":"quantitative","axis":null},"y2":{"field":"r"}}},
{"transform":[{"filter":"datum.kind=='t'"}],"mark":{"type":"rule","color":"#1f2270","strokeWidth":2.4,"strokeCap":"round","y2Offset":16},"encoding":{"x":{"field":"lci","type":"quantitative"},"x2":{"field":"es"},"y":{"field":"r","type":"quantitative","axis":null},"y2":{"field":"r"}}},
{"transform":[{"filter":"datum.kind=='t'"}],"mark":{"type":"rule","color":"#1f2270","strokeWidth":2.4,"strokeCap":"round","yOffset":16},"encoding":{"x":{"field":"es","type":"quantitative"},"x2":{"field":"uci"},"y":{"field":"r","type":"quantitative","axis":null},"y2":{"field":"r"}}},
{"mark":{"type":"text","align":"left","baseline":"middle","fontSize":15.3},"encoding":{"x":{"datum":0.02567},"y":{"field":"r","type":"quantitative","axis":null},"text":{"field":"label"}}},
{"transform":[{"filter":"isValid(datum.est)"}],"mark":{"type":"text","align":"left","baseline":"middle","fontSize":15.3},"encoding":{"x":{"datum":8.40},"y":{"field":"r","type":"quantitative","axis":null},"text":{"field":"est"}}},
{"transform":[{"filter":"isValid(datum.wt)"}],"mark":{"type":"text","align":"left","baseline":"middle","fontSize":15.3},"encoding":{"x":{"datum":34.39},"y":{"field":"r","type":"quantitative","axis":null},"text":{"field":"wt"}}},
{"data":{"values":[{}]},"mark":{"type":"text","text":"D","align":"left","baseline":"alphabetic","fontSize":24,"fontWeight":"bold"},"encoding":{"x":{"datum":0.01426},"y":{"datum":-4.739,"axis":null}}},
{"data":{"values":[{}]},"mark":{"type":"text","text":"Study","align":"left","baseline":"middle","fontSize":15.3},"encoding":{"x":{"datum":0.02567},"y":{"datum":-3.05,"axis":null}}},
{"data":{"values":[{}]},"mark":{"type":"text","text":"ID","align":"left","baseline":"middle","fontSize":15.3},"encoding":{"x":{"datum":0.02567},"y":{"datum":-2.03,"axis":null}}},
{"data":{"values":[{}]},"mark":{"type":"text","text":"ES (95% CI)","align":"left","baseline":"middle","fontSize":15.3},"encoding":{"x":{"datum":8.40},"y":{"datum":-2.03,"axis":null}}},
{"data":{"values":[{}]},"mark":{"type":"text","text":"%","align":"left","baseline":"middle","fontSize":15.3},"encoding":{"x":{"datum":34.39},"y":{"datum":-3.06,"axis":null}}},
{"data":{"values":[{}]},"mark":{"type":"text","text":"Weight","align":"left","baseline":"middle","fontSize":15.3},"encoding":{"x":{"datum":34.39},"y":{"datum":-2.03,"axis":null}}},
{"data":{"values":[{}]},"mark":{"type":"text","text":"NOTE: Weights are from random effects analysis","align":"left","baseline":"middle","fontSize":15},"encoding":{"x":{"datum":0.02567},"y":{"datum":14.53,"axis":null}}}
]}
]
}
